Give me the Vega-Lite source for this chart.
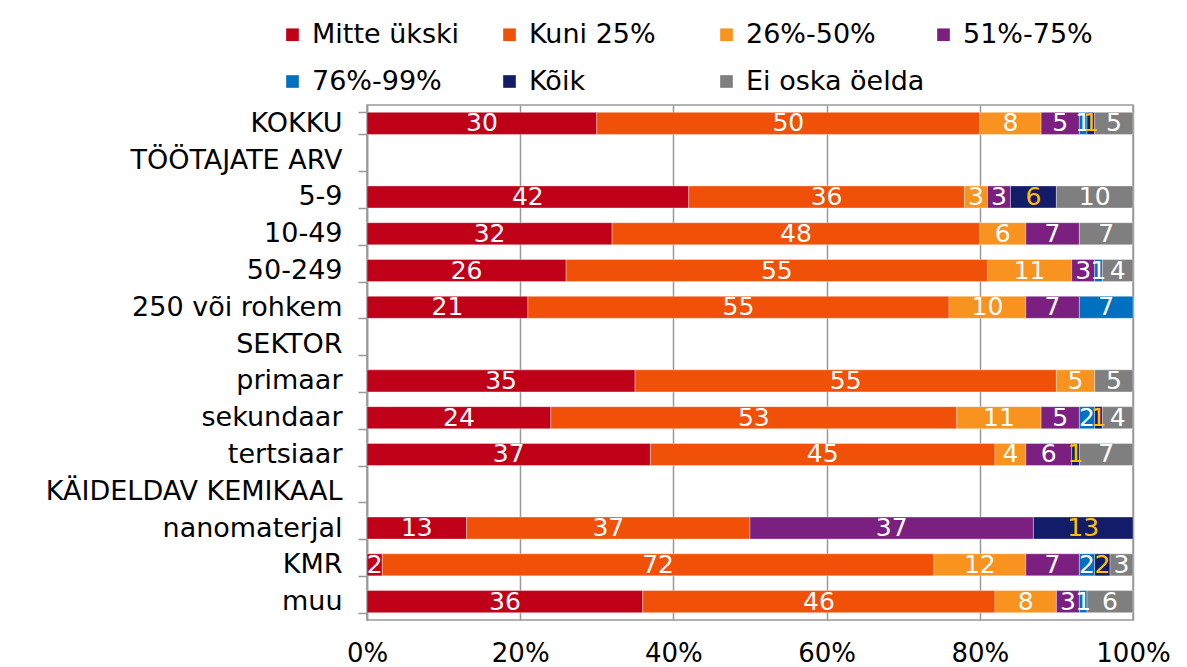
{
  "$schema": "https://vega.github.io/schema/vega-lite/v6.json",
  "autosize": {"type": "none"},
  "width": 766,
  "height": 515,
  "padding": {"left": 367, "top": 105, "right": 54, "bottom": 47},
  "background": "white",
  "config": {
    "font": "DejaVu Sans",
    "view": {"stroke": "#999999", "strokeWidth": 1.5}
  },
  "datasets": {
    "series": [
      {"s": "Mitte ükski", "k": 0},
      {"s": "Kuni 25%", "k": 1},
      {"s": "26%-50%", "k": 2},
      {"s": "51%-75%", "k": 3},
      {"s": "76%-99%", "k": 4},
      {"s": "Kõik", "k": 5},
      {"s": "Ei oska öelda", "k": 6}
    ],
    "values": [
      {"c": "KOKKU", "s": "Mitte ükski", "v": 30},
      {"c": "KOKKU", "s": "Kuni 25%", "v": 50},
      {"c": "KOKKU", "s": "26%-50%", "v": 8},
      {"c": "KOKKU", "s": "51%-75%", "v": 5},
      {"c": "KOKKU", "s": "76%-99%", "v": 1},
      {"c": "KOKKU", "s": "Kõik", "v": 1},
      {"c": "KOKKU", "s": "Ei oska öelda", "v": 5},
      {"c": "5-9", "s": "Mitte ükski", "v": 42},
      {"c": "5-9", "s": "Kuni 25%", "v": 36},
      {"c": "5-9", "s": "26%-50%", "v": 3},
      {"c": "5-9", "s": "51%-75%", "v": 3},
      {"c": "5-9", "s": "Kõik", "v": 6},
      {"c": "5-9", "s": "Ei oska öelda", "v": 10},
      {"c": "10-49", "s": "Mitte ükski", "v": 32},
      {"c": "10-49", "s": "Kuni 25%", "v": 48},
      {"c": "10-49", "s": "26%-50%", "v": 6},
      {"c": "10-49", "s": "51%-75%", "v": 7},
      {"c": "10-49", "s": "Ei oska öelda", "v": 7},
      {"c": "50-249", "s": "Mitte ükski", "v": 26},
      {"c": "50-249", "s": "Kuni 25%", "v": 55},
      {"c": "50-249", "s": "26%-50%", "v": 11},
      {"c": "50-249", "s": "51%-75%", "v": 3},
      {"c": "50-249", "s": "76%-99%", "v": 1},
      {"c": "50-249", "s": "Ei oska öelda", "v": 4},
      {"c": "250 või rohkem", "s": "Mitte ükski", "v": 21},
      {"c": "250 või rohkem", "s": "Kuni 25%", "v": 55},
      {"c": "250 või rohkem", "s": "26%-50%", "v": 10},
      {"c": "250 või rohkem", "s": "51%-75%", "v": 7},
      {"c": "250 või rohkem", "s": "76%-99%", "v": 7},
      {"c": "primaar", "s": "Mitte ükski", "v": 35},
      {"c": "primaar", "s": "Kuni 25%", "v": 55},
      {"c": "primaar", "s": "26%-50%", "v": 5},
      {"c": "primaar", "s": "Ei oska öelda", "v": 5},
      {"c": "sekundaar", "s": "Mitte ükski", "v": 24},
      {"c": "sekundaar", "s": "Kuni 25%", "v": 53},
      {"c": "sekundaar", "s": "26%-50%", "v": 11},
      {"c": "sekundaar", "s": "51%-75%", "v": 5},
      {"c": "sekundaar", "s": "76%-99%", "v": 2},
      {"c": "sekundaar", "s": "Kõik", "v": 1},
      {"c": "sekundaar", "s": "Ei oska öelda", "v": 4},
      {"c": "tertsiaar", "s": "Mitte ükski", "v": 37},
      {"c": "tertsiaar", "s": "Kuni 25%", "v": 45},
      {"c": "tertsiaar", "s": "26%-50%", "v": 4},
      {"c": "tertsiaar", "s": "51%-75%", "v": 6},
      {"c": "tertsiaar", "s": "Kõik", "v": 1},
      {"c": "tertsiaar", "s": "Ei oska öelda", "v": 7},
      {"c": "nanomaterjal", "s": "Mitte ükski", "v": 13},
      {"c": "nanomaterjal", "s": "Kuni 25%", "v": 37},
      {"c": "nanomaterjal", "s": "51%-75%", "v": 37},
      {"c": "nanomaterjal", "s": "Kõik", "v": 13},
      {"c": "KMR", "s": "Mitte ükski", "v": 2},
      {"c": "KMR", "s": "Kuni 25%", "v": 72},
      {"c": "KMR", "s": "26%-50%", "v": 12},
      {"c": "KMR", "s": "51%-75%", "v": 7},
      {"c": "KMR", "s": "76%-99%", "v": 2},
      {"c": "KMR", "s": "Kõik", "v": 2},
      {"c": "KMR", "s": "Ei oska öelda", "v": 3},
      {"c": "muu", "s": "Mitte ükski", "v": 36},
      {"c": "muu", "s": "Kuni 25%", "v": 46},
      {"c": "muu", "s": "26%-50%", "v": 8},
      {"c": "muu", "s": "51%-75%", "v": 3},
      {"c": "muu", "s": "76%-99%", "v": 1},
      {"c": "muu", "s": "Ei oska öelda", "v": 6}
    ]
  },
  "data": {"name": "values"},
  "transform": [
    {"lookup": "s", "from": {"data": {"name": "series"}, "key": "s", "fields": ["k"]}},
    {"stack": "v", "groupby": ["c"], "sort": [{"field": "k", "order": "ascending"}], "offset": "normalize", "as": ["v0", "v1"]}
  ],
  "encoding": {
    "y": {
      "field": "c",
      "type": "nominal",
      "scale": {
        "domain": ["KOKKU", "TÖÖTAJATE ARV", "5-9", "10-49", "50-249", "250 või rohkem", "SEKTOR", "primaar", "sekundaar", "tertsiaar", "KÄIDELDAV KEMIKAAL", "nanomaterjal", "KMR", "muu"],
        "paddingInner": 0.4,
        "paddingOuter": 0.2
      },
      "axis": {
        "title": null,
        "labelFontSize": 27,
        "labelColor": "#000000",
        "labelPadding": 16,
        "domainColor": "#999999",
        "domainWidth": 1.5,
        "tickColor": "#999999",
        "tickWidth": 1.5,
        "tickSize": 9,
        "tickBand": "extent",
        "labelLimit": 400
      }
    }
  },
  "layer": [
    {
      "mark": {"type": "bar", "stroke": "#ffffff", "strokeWidth": 0.7, "strokeOpacity": 0.5},
      "encoding": {
        "x": {
          "field": "v0",
          "type": "quantitative",
          "scale": {"domain": [0, 1]},
          "axis": {
            "title": null,
            "format": "%",
            "values": [0, 0.2, 0.4, 0.6, 0.8, 1],
            "labelFontSize": 26,
            "labelColor": "#000000",
            "labelPadding": 20,
            "ticks": false,
            "domain": false,
            "gridColor": "#999999",
            "gridWidth": 1.5,
            "labelFlush": false
          }
        },
        "x2": {"field": "v1"},
        "color": {
          "field": "s",
          "type": "nominal",
          "scale": {
            "domain": ["Mitte ükski", "Kuni 25%", "26%-50%", "51%-75%", "76%-99%", "Kõik", "Ei oska öelda"],
            "range": ["#C00018", "#F05008", "#F7931E", "#7B2081", "#0070C0", "#131C69", "#7F7F7F"]
          },
          "legend": {
            "title": null,
            "orient": "none",
            "legendX": -88,
            "legendY": -84,
            "direction": "horizontal",
            "columns": 4,
            "gridAlign": "all",
            "columnPadding": 5,
            "rowPadding": 19,
            "symbolType": "square",
            "symbolSize": 160,
            "symbolStrokeWidth": 0,
            "labelFontSize": 27,
            "labelColor": "#000000",
            "labelOffset": 6,
            "labelLimit": 300
          }
        }
      }
    },
    {
      "transform": [
        {"fold": ["v0", "v1"], "as": ["edge", "pos"]}
      ],
      "mark": {"type": "text", "fontSize": 25, "baseline": "middle", "align": "center"},
      "encoding": {
        "x": {"field": "pos", "type": "quantitative", "aggregate": "mean"},
        "detail": {"field": "s", "type": "nominal"},
        "text": {"field": "v", "type": "quantitative", "aggregate": "max"},
        "color": {
          "condition": {"test": "datum.s === 'Kõik'", "value": "#FFC000"},
          "value": "#ffffff"
        }
      }
    }
  ]
}
